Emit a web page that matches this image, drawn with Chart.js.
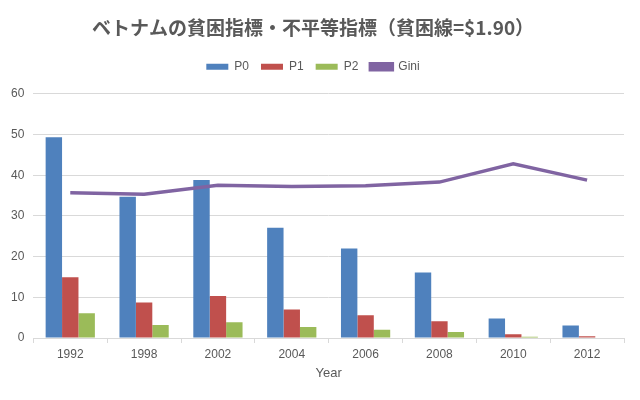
<!DOCTYPE html>
<html>
<head>
<meta charset="utf-8">
<script src="https://cdn.jsdelivr.net/npm/chart.js@4/dist/chart.umd.min.js"></script>
<style>
  html, body { margin: 0; padding: 0; background: #fff; }
  #wrap { width: 640px; height: 400px; }
</style>
</head>
<body>
<div id="wrap"><canvas id="chart" width="640" height="400"></canvas></div>
<script>
// data
const years = ["1992", "1998", "2002", "2004", "2006", "2008", "2010", "2012"];
const p0 = [49.3, 34.7, 38.8, 27.1, 22.0, 16.1, 4.8, 3.1];
const p1 = [14.9, 8.7, 10.3, 7.0, 5.6, 4.1, 0.9, 0.4];
const p2 = [6.1, 3.2, 3.9, 2.7, 2.0, 1.5, 0.3, 0.1];
const gini = [35.7, 35.3, 37.5, 37.2, 37.4, 38.3, 42.8, 38.8];
const yTicks = [0, 10, 20, 30, 40, 50, 60];

const grey = "#595959";
const bodyFont = "'Liberation Sans', 'DejaVu Sans', sans-serif";

// extra space under the legend
const legendGap = {
  id: "legendGap",
  beforeInit(chart) {
    const origFit = chart.legend.fit;
    chart.legend.fit = function () {
      origFit.call(this);
      this.height += 11;
    };
  },
};

const chartCanvas = document.getElementById("chart");
new Chart(chartCanvas, {
  type: "bar",
  data: {
    labels: years,
    datasets: [
      { label: "P0", data: p0, backgroundColor: "#4f81bd", order: 2 },
      { label: "P1", data: p1, backgroundColor: "#c0504d", order: 2 },
      { label: "P2", data: p2, backgroundColor: "#9bbb59", order: 2 },
      {
        label: "Gini",
        type: "line",
        data: gini,
        borderColor: "#8064a2",
        backgroundColor: "#8064a2",
        borderWidth: 3.5,
        pointRadius: 0,
        tension: 0,
        order: 1,
      },
    ],
  },
  plugins: [legendGap],
  options: {
    responsive: false,
    animation: false,
    layout: { padding: { left: 2, right: 16, top: 12, bottom: 15 } },
    datasets: {
      bar: { categoryPercentage: 0.667, barPercentage: 1.0 },
    },
    plugins: {
      title: {
        display: true,
        text: "ベトナムの貧困指標・不平等指標（貧困線=$1.90）",
        color: grey,
        font: { family: "'Noto Sans CJK JP', sans-serif", size: 19, weight: "bold" },
        padding: { top: 4, bottom: 10 },
      },
      legend: {
        position: "top",
        labels: {
          color: grey,
          boxWidth: 22,
          boxHeight: 6,
          padding: 12,
          font: { family: bodyFont, size: 12 },
          // keep dataset order in the legend (Gini last)
          sort: (a, b) => a.datasetIndex - b.datasetIndex,
        },
      },
      tooltip: { enabled: false },
    },
    scales: {
      x: {
        grid: {
          drawOnChartArea: false,
          drawTicks: true,
          tickLength: 5,
          color: "#d9d9d9",
          offset: true,
        },
        border: { color: "#d9d9d9" },
        ticks: { color: grey, font: { family: bodyFont, size: 12 }, padding: 4 },
        title: {
          display: true,
          text: "Year",
          color: grey,
          font: { family: bodyFont, size: 13 },
          padding: { top: 0 },
        },
      },
      y: {
        min: 0,
        max: 60,
        afterBuildTicks: (axis) => {
          axis.ticks = yTicks.map((v) => ({ value: v }));
        },
        grid: { color: "#d9d9d9", drawTicks: false },
        border: { display: false },
        ticks: { color: grey, font: { family: bodyFont, size: 12 }, padding: 9 },
      },
    },
  },
});
</script>
</body>
</html>
